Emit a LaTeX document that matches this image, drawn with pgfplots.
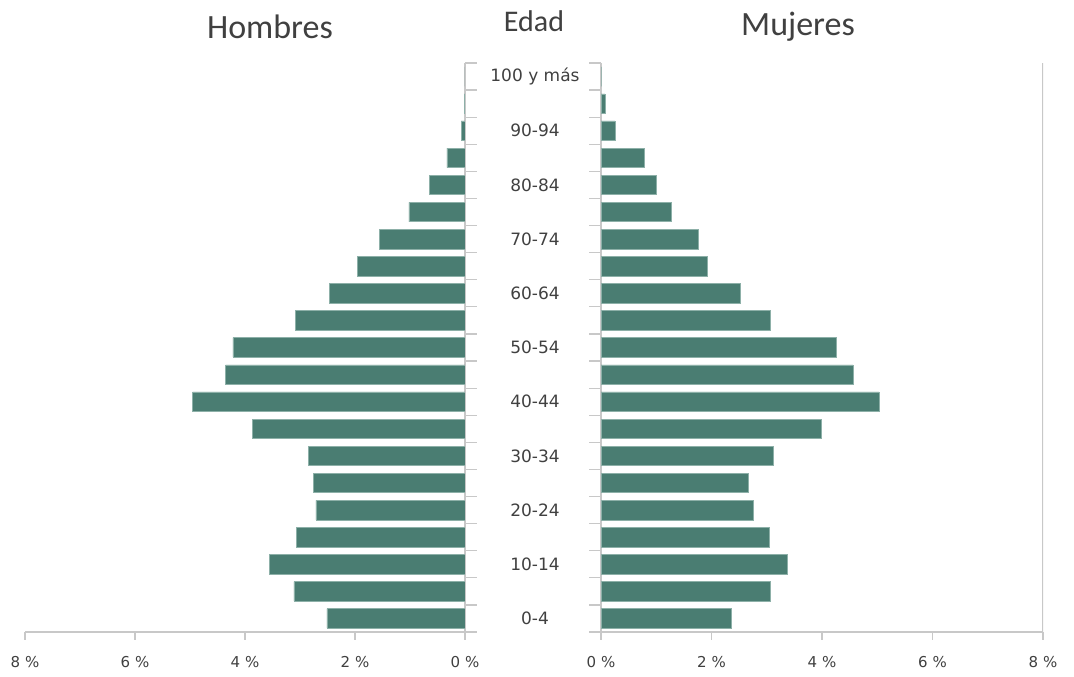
\documentclass[border=0pt]{standalone}
\usepackage{pgfplots}
\pgfplotsset{compat=1.18}
\usepackage{pgfplotstable}
\usepackage{fontspec}
\setmainfont{DejaVu Sans}
\newfontfamily\titlefont{Carlito}
\definecolor{barfill}{HTML}{4A7D72}
\definecolor{baredge}{HTML}{8DB0A8}
\definecolor{axisgray}{HTML}{C8C8C8}
\definecolor{textgray}{HTML}{404040}

% edad: 0 = 0-4 ... 20 = 100 y mas
\pgfplotstableread{
y  v
0  2.51
1  3.11
2  3.56
3  3.07
4  2.71
5  2.76
6  2.85
7  3.87
8  4.95
9  4.35
10 4.22
11 3.09
12 2.47
13 1.96
14 1.56
15 1.02
16 0.64
17 0.33
18 0.07
19 0.01
20 0.00
}\hombres
\pgfplotstableread{
y  v
0  2.35
1  3.06
2  3.37
3  3.04
4  2.75
5  2.66
6  3.11
7  3.98
8  5.03
9  4.56
10 4.25
11 3.06
12 2.53
13 1.92
14 1.77
15 1.27
16 1.00
17 0.78
18 0.25
19 0.07
20 0.00
}\mujeres

\pgfplotsset{
  piramide/.style={
    scale only axis,
    height=569pt,
    xmin=0, xmax=8,
    ymin=-0.5, ymax=20.5,
    xbar, bar width=0.72,
    axis x line*=bottom,
    x axis line style={axisgray, line width=2.5pt},
    y axis line style={axisgray, line width=1.5pt},
    major tick length=12pt,
    xtick=\empty,
    extra x ticks={0,2,4,6,8},
    extra x tick labels={0 \%,2 \%,4 \%,6 \%,8 \%},
    extra x tick style={major tick length=8pt,
      xticklabel style={yshift=-13pt}},
    xtick style={axisgray, line width=1.2pt},
    ytick={-0.5,0.5,...,20.5},
    yticklabels={},
    ytick style={axisgray, line width=1.2pt},
    tick align=outside,
    ticklabel style={font=\fontsize{15}{15}\selectfont, text=textgray},
    /pgf/number format/assume math mode=true,
  },
  barra/.style={fill=barfill, draw=baredge, line width=0.6pt},
}

\begin{document}
\begin{tikzpicture}
\path[use as bounding box] (0,0) rectangle (1074pt,677pt);

% Hombres
\begin{axis}[piramide,
  at={(25pt,45pt)}, anchor=south west,
  width=440pt,
  x dir=reverse,
  axis y line*=right,
]
\addplot[barra] table[x=v, y=y] {\hombres};
\end{axis}

% Mujeres
\begin{axis}[piramide,
  at={(601pt,45pt)}, anchor=south west,
  width=442pt,
  axis y line*=left,
  extra y ticks={0,2,...,20},
  extra y tick labels={0-4,10-14,20-24,30-34,40-44,50-54,60-64,70-74,80-84,90-94,100 y más},
  extra y tick style={major tick length=0pt,
    yticklabel style={anchor=center, xshift=-66pt, font=\fontsize{17}{17}\selectfont, text=textgray}},
]
\addplot[barra] table[x=v, y=y] {\mujeres};
\draw[axisgray, line width=1.5pt] (axis cs:8,-0.5) -- (axis cs:8,20.5);
\end{axis}

\node[font=\titlefont\fontsize{34}{34}\selectfont, text=textgray] at (270pt,650pt) {Hombres};
\node[font=\titlefont\fontsize{30}{30}\selectfont, text=textgray] at (534pt,656pt) {Edad};
\node[font=\titlefont\fontsize{34}{34}\selectfont, text=textgray] at (798pt,650pt) {Mujeres};
\end{tikzpicture}
\end{document}
